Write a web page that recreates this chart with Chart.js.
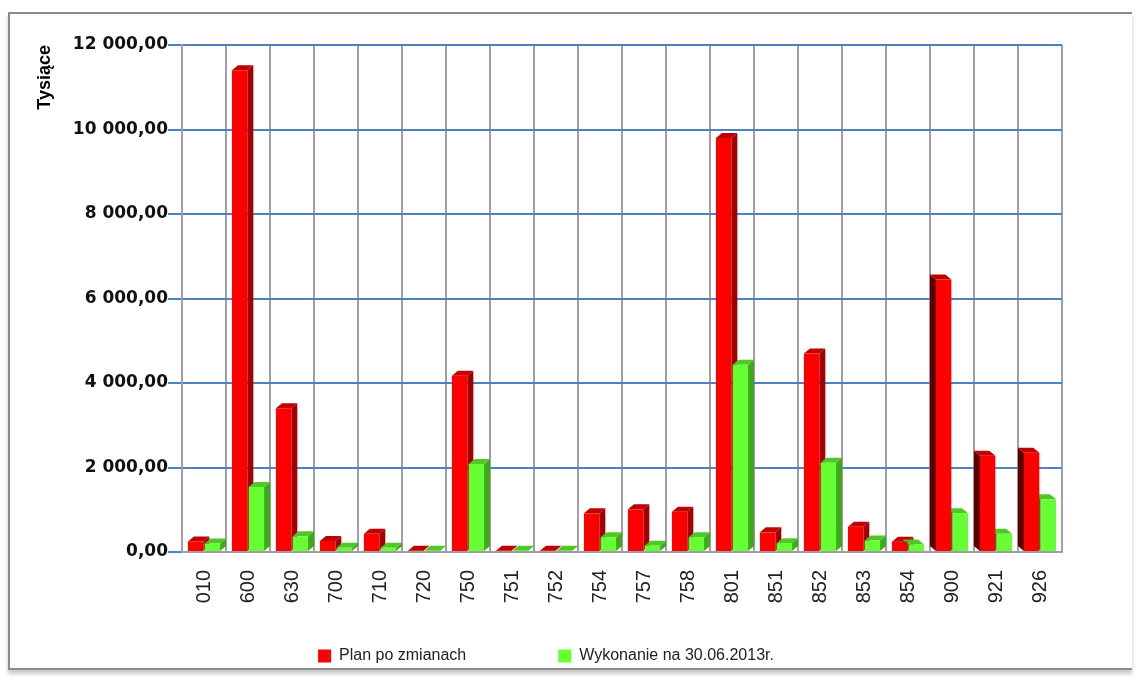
<!DOCTYPE html>
<html>
<head>
<meta charset="utf-8">
<script src="https://cdn.jsdelivr.net/npm/chart.js@4.4.1/dist/chart.umd.min.js"></script>
<style>
  html, body { margin: 0; padding: 0; background: #fff; }
  #frame { position: absolute; left: 8px; top: 12px; width: 1124px; height: 658px;
           border: 2px solid #8c8c8c; border-right: none; box-sizing: border-box;
           box-shadow: 0 4px 4px #c8c8c8; }
  #wrap { position: absolute; left: 0; top: 0; width: 1137px; height: 682px; }
</style>
</head>
<body>
<div id="frame"></div>
<div id="wrap"><canvas id="myChart" width="1137" height="682"></canvas></div>
<script>
// categories (działy)
var categories = ['010','600','630','700','710','720','750','751','752','754',
                  '757','758','801','851','852','853','854','900','921','926'];
// Plan po zmianach
var planValues = [250, 11400, 3400, 260, 430, 30, 4170, 30, 30, 915,
                  1010, 955, 9800, 465, 4700, 600, 245, 6450, 2280, 2350];
// Wykonanie na 30.06.2013r.
var execValues = [200, 1540, 370, 100, 100, 30, 2080, 30, 30, 350,
                  150, 350, 4430, 210, 2110, 270, 180, 920, 430, 1250];
var yMax = 12000;
var yStep = 2000;

function plNumber(v) {
  var s = v.toFixed(2).split('.');
  var intPart = s[0].replace(/\B(?=(\d{3})+(?!\d))/g, ' ');
  return intPart + ',' + s[1];
}

// fake-3D faces (side + top) behind each bar, built from the bar elements;
// bars right of the "vanishing point" show their left side
var depth3d = {
  id: 'depth3d',
  beforeDatasetsDraw: function(chart) {
    var ctx = chart.ctx;
    var area = chart.chartArea;
    var vp = area.left + (area.right - area.left) * 0.82;
    chart.data.datasets.forEach(function(ds, i) {
      var meta = chart.getDatasetMeta(i);
      meta.data.forEach(function(bar) {
        var p = bar.getProps(['x','y','base','width'], true);
        var l = p.x - p.width / 2, r = p.x + p.width / 2;
        var leftSide = p.x > vp;
        var dx = leftSide ? -6 : 6, dy = -5;
        var edge = leftSide ? l : r;
        ctx.save();
        ctx.fillStyle = leftSide ? ds.farSideColor : ds.sideColor;
        ctx.beginPath();
        ctx.moveTo(edge, p.y); ctx.lineTo(edge + dx, p.y + dy);
        ctx.lineTo(edge + dx, p.base + dy); ctx.lineTo(edge, p.base);
        ctx.closePath(); ctx.fill();
        ctx.fillStyle = ds.topColor;
        ctx.beginPath();
        ctx.moveTo(l, p.y); ctx.lineTo(l + dx, p.y + dy);
        ctx.lineTo(r + dx, p.y + dy); ctx.lineTo(r, p.y);
        ctx.closePath(); ctx.fill();
        ctx.restore();
      });
    });
  }
};

// pull the legend up close to the axis (labels hang over it like in Excel)
var legendUp = {
  id: 'legendUp',
  afterLayout: function(chart) {
    var lg = chart.legend;
    lg.top = chart.chartArea.bottom + 4;
    lg.bottom = chart.height;
    lg.height = lg.bottom - lg.top;
  }
};

var ctx = document.getElementById('myChart').getContext('2d');
var myChart = new Chart(ctx, {
  type: 'bar',
  data: {
    labels: categories,
    datasets: [{
      label: 'Plan po zmianach',
      data: planValues,
      backgroundColor: '#ff0000',
      sideColor: '#a00000',
      farSideColor: '#5c0000',
      topColor: '#c00000',
      categoryPercentage: 0.76,
      barPercentage: 0.92
    }, {
      label: 'Wykonanie na 30.06.2013r.',
      data: execValues,
      backgroundColor: '#66ff33',
      sideColor: '#3fa81f',
      farSideColor: '#2c7a14',
      topColor: '#4fc827',
      categoryPercentage: 0.76,
      barPercentage: 0.92
    }]
  },
  plugins: [depth3d, legendUp],
  options: {
    responsive: false,
    animation: false,
    layout: { padding: { left: 30, right: 75, top: 45, bottom: 48 } },
    plugins: {
      legend: {
        position: 'bottom',
        maxHeight: 20,
        labels: {
          boxWidth: 13, boxHeight: 13, padding: 92,
          color: '#222',
          font: { family: 'Liberation Sans', size: 16 }
        }
      },
      tooltip: { enabled: false }
    },
    scales: {
      x: {
        grid: { color: '#a0a0a0', lineWidth: 2, drawTicks: false, offset: true },
        border: { color: '#a0a0a0', width: 2 },
        ticks: {
          minRotation: 90, maxRotation: 90, padding: 18,
          color: '#222',
          font: { family: 'Liberation Sans', size: 20 }
        },
        afterFit: function(s) { s.height = 62; }
      },
      y: {
        min: 0, max: yMax,
        grid: { color: '#4f81bd', lineWidth: 2, tickLength: 14 },
        border: { color: '#a0a0a0', width: 2 },
        ticks: {
          stepSize: yStep, padding: 0,
          color: '#111',
          font: { family: 'DejaVu Sans', size: 17, weight: 'bold' },
          callback: function(v) { return plNumber(v); }
        },
        title: {
          display: true, text: 'Tysiące', align: 'end',
          color: '#000',
          font: { family: 'Liberation Sans', size: 18, weight: 'bold' }
        },
        afterFit: function(s) { s.width = 152; }
      }
    }
  }
});
</script>
</body>
</html>
